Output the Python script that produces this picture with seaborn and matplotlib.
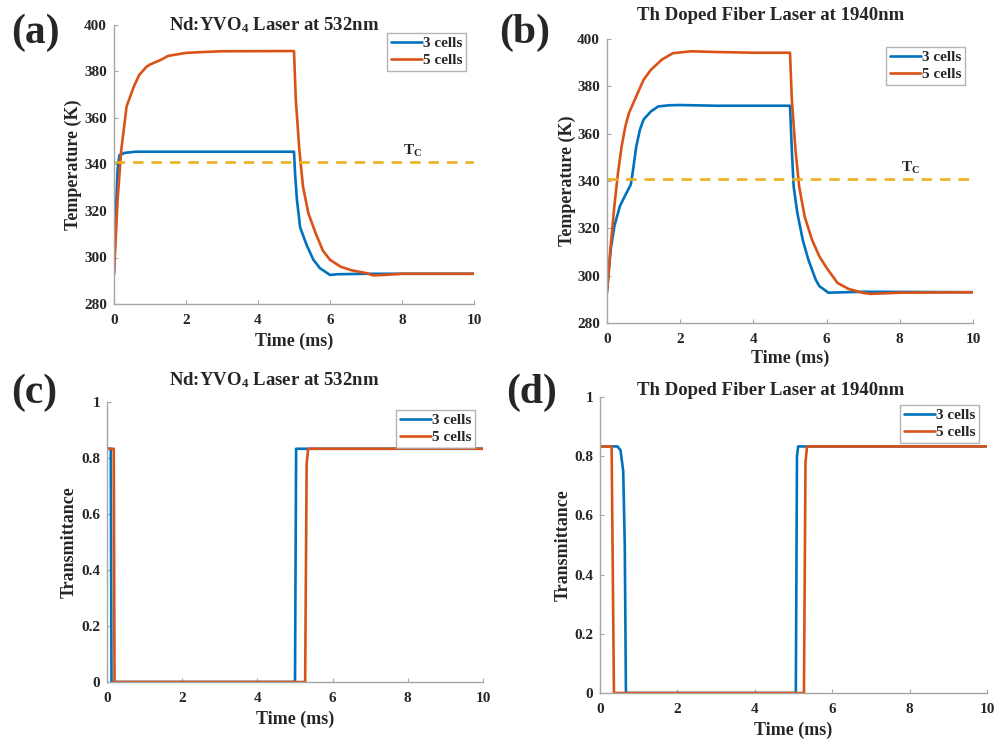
import numpy as np
import pandas as pd
import matplotlib
matplotlib.use("Agg")
import matplotlib.pyplot as plt
import seaborn as sns

# data
series_names = ["3 cells", "5 cells"]
t_c = 341  # Curie temperature line (K)

# (a) Nd:YVO4 temperature
a_t3 = [0, 0.05, 0.10, 0.15, 0.30, 0.60, 1.0, 2.0, 3.0, 4.0, 5.0, 5.03, 5.08, 5.17, 5.35, 5.54, 5.72, 6.0, 6.2, 7.0, 8.0, 10.0]
a_y3 = [293, 318, 338, 344, 345, 345.5, 345.5, 345.5, 345.5, 345.5, 345.5, 336, 325, 313, 305.4, 299, 295.4, 292.5, 292.8, 293, 293, 293]
a_t5 = [0, 0.10, 0.20, 0.35, 0.55, 0.70, 0.90, 1.0, 1.3, 1.5, 2.0, 2.5, 3.0, 5.0, 5.05, 5.15, 5.25, 5.4, 5.6, 5.8, 6.0, 6.3, 6.6, 7.0, 7.2, 7.5, 8.0, 10.0]
a_y5 = [293, 324.8, 346, 365, 373.5, 378.5, 382, 383, 385, 386.7, 388, 388.4, 388.7, 388.8, 367.8, 346, 330.5, 319, 310.5, 303, 299, 296, 294.5, 293.3, 292.3, 292.5, 293, 293]

# (b) Th doped fiber temperature
b_t3 = [0, 0.10, 0.20, 0.35, 0.50, 0.65, 0.70, 0.80, 0.90, 1.0, 1.2, 1.4, 1.7, 2.0, 3.0, 5.0, 5.05, 5.10, 5.20, 5.35, 5.5, 5.7, 5.8, 6.05, 7.0, 10.0]
b_y3 = [293, 311, 320.8, 329.3, 334, 338.5, 343.4, 354.6, 361.7, 366, 369.4, 371.5, 372, 372.1, 371.8, 371.8, 353, 337.7, 326.5, 315, 306.8, 298.4, 295.6, 292.8, 293.2, 293]
b_t5 = [0, 0.10, 0.20, 0.30, 0.40, 0.50, 0.60, 0.80, 1.0, 1.2, 1.5, 1.8, 2.3, 3.0, 4.0, 5.0, 5.05, 5.15, 5.25, 5.4, 5.6, 5.8, 6.0, 6.3, 6.6, 7.0, 7.2, 8.0, 10.0]
b_y5 = [293, 312.4, 329.3, 343.4, 354.6, 363, 368.7, 375.8, 382.8, 387, 391.3, 394, 394.8, 394.5, 394.2, 394.2, 374.4, 353, 337.7, 325, 315.2, 308.2, 303.3, 296.9, 294.4, 292.7, 292.3, 292.8, 293]

# (c) Nd:YVO4 transmittance
c_t3 = [0, 0.10, 0.12, 5.00, 5.03, 10.0]
c_y3 = [0.833, 0.833, 0, 0, 0.833, 0.833]
c_t5 = [0, 0.18, 0.20, 5.27, 5.31, 5.35, 10.0]
c_y5 = [0.833, 0.833, 0, 0, 0.78, 0.833, 0.833]

# (d) Th doped fiber transmittance
d_t3 = [0, 0.45, 0.53, 0.60, 0.64, 0.67, 5.06, 5.09, 5.12, 10.0]
d_y3 = [0.833, 0.833, 0.82, 0.75, 0.5, 0, 0, 0.80, 0.833, 0.833]
d_t5 = [0, 0.30, 0.36, 5.27, 5.31, 5.35, 10.0]
d_y5 = [0.833, 0.833, 0, 0, 0.78, 0.833, 0.833]

titles = [r"Nd:YVO$_4$ Laser at 532nm", "Th Doped Fiber Laser at 1940nm"]
panel_labels = ["(a)", "(b)", "(c)", "(d)"]

# MATLAB default colours
blue, orange, yellow = "#0072BD", "#D95319", "#EDB120"

sns.set_theme(style="white")
plt.rcParams["font.family"] = ["Liberation Serif", "DejaVu Serif"]
plt.rcParams["font.weight"] = "bold"
plt.rcParams["axes.labelweight"] = "bold"
plt.rcParams["mathtext.fontset"] = "custom"
plt.rcParams["mathtext.rm"] = "Liberation Serif:bold"
plt.rcParams["mathtext.it"] = "Liberation Serif:bold"
plt.rcParams["mathtext.bf"] = "Liberation Serif:bold"

W, H = 997, 742
fig = plt.figure(figsize=(W / 100, H / 100), dpi=100)

def px_axes(l, t, r, b):
    return fig.add_axes([l / W, 1 - b / H, (r - l) / W, (b - t) / H])

axes = [px_axes(114, 25, 474, 304), px_axes(607, 39, 973, 323),
        px_axes(107, 402, 483, 682), px_axes(600, 397, 987, 693)]

data = [(a_t3, a_y3, a_t5, a_y5), (b_t3, b_y3, b_t5, b_y5),
        (c_t3, c_y3, c_t5, c_y5), (d_t3, d_y3, d_t5, d_y5)]

ylab_x = [-0.088, -0.085, -0.078, -0.073]
xlab_y = [-0.104, -0.095, -0.103, -0.098]

for i, ax in enumerate(axes):
    t3, y3, t5, y5 = data[i]
    sns.lineplot(x=t3, y=y3, ax=ax, color=blue, lw=1.9, label=series_names[0],
                 estimator=None, sort=False)
    sns.lineplot(x=t5, y=y5, ax=ax, color=orange, lw=1.9, label=series_names[1],
                 estimator=None, sort=False)
    ax.set_xlim(0, 10)
    ax.set_xticks(np.arange(0, 11, 2))
    if i < 2:
        ax.plot([0, 10], [t_c, t_c], color=yellow, lw=1.9, ls=(0, (4, 3)))
        ax.text(8.02, 344, r"T$_C$", fontsize=11, fontweight="bold")
        ax.set_ylim(280, 400)
        ax.set_yticks(np.arange(280, 401, 20))
        ax.set_ylabel("Temperature (K)", fontsize=13)
    else:
        ax.set_ylim(0, 1)
        ax.set_yticks(np.arange(0, 1.01, 0.2))
        ax.set_yticklabels([f"{v:g}" for v in np.arange(0, 1.01, 0.2)])
        ax.set_ylabel("Transmittance", fontsize=13)
    ax.set_xlabel("Time (ms)", fontsize=13)
    ax.yaxis.set_label_coords(ylab_x[i], 0.5)
    ax.xaxis.set_label_coords(0.5, xlab_y[i])
    for s in ["top", "right"]:
        ax.spines[s].set_visible(False)
    for s in ["left", "bottom"]:
        ax.spines[s].set_color("#a6a6a6")
        ax.spines[s].set_linewidth(1.0)
    ax.tick_params(direction="in", length=3, width=0.8, color="#a6a6a6",
                   labelsize=11, pad=5, left=True, bottom=True)
    ax.tick_params(axis="x", pad=7)
    for lab in ax.get_xticklabels() + ax.get_yticklabels():
        lab.set_fontweight("bold")
    leg = ax.legend(loc="upper right", fontsize=11, frameon=True, fancybox=False,
                    handlelength=2.0, handletextpad=0.1, borderpad=0.25,
                    labelspacing=0.2, borderaxespad=0.5)
    leg.get_frame().set_edgecolor("#a0a0a0")
    leg.get_frame().set_linewidth(1.0)
    for txt in leg.get_texts():
        txt.set_fontweight("bold")

# titles and panel labels placed at pixel positions
title_pos = [(274, 30), (771, 20), (274, 385), (771, 395)]
for i, (x, y) in enumerate(title_pos):
    fig.text(x / W, 1 - y / H, titles[i % 2], ha="center", va="baseline",
             fontsize=13.5, fontweight="bold")

label_pos = [(11, 33), (499, 33), (11, 393), (506, 393)]
for lab, (x, y) in zip(panel_labels, label_pos):
    fig.text(x / W, 1 - y / H, lab, ha="left", va="center",
             fontsize=30, fontweight="bold")

fig.savefig("out.png", dpi=100)
